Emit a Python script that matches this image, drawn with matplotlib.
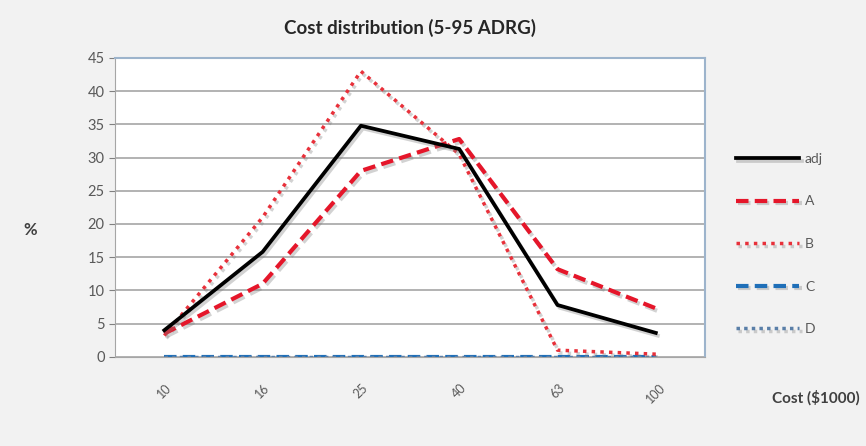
import matplotlib
matplotlib.use("Agg")
import matplotlib.pyplot as plt
import matplotlib.patheffects as pe

plt.rcParams['font.family'] = ['Lato', 'DejaVu Sans']

# data
cost_labels = ['10', '16', '25', '40', '63', '100']
adj = [4.0, 15.8, 34.8, 31.3, 7.8, 3.6]
a_vals = [3.5, 11.0, 28.0, 32.8, 13.2, 7.3]
b_vals = [3.2, 21.0, 43.0, 30.5, 1.0, 0.4]
c_vals = [0, 0, 0, 0, 0, 0]
d_vals = [0, 0, 0, 0, 0, 0]

x = list(range(len(cost_labels)))

fig = plt.figure(figsize=(8.66, 4.46), dpi=100)
fig.patch.set_facecolor('#f2f2f2')
ax = fig.add_axes([0.133, 0.2, 0.681, 0.67])
ax.set_facecolor('white')

shadow = [pe.SimpleLineShadow(offset=(1.5, -2), shadow_color='gray', alpha=0.35), pe.Normal()]

ax.plot(x, c_vals, color='#1f6fb8', lw=3, ls=(0, (3, 1.5)), label='C', path_effects=shadow, zorder=3)
ax.plot(x, d_vals, color='#5a7fa8', lw=2.5, ls=(0, (1, 1.2)), label='D', path_effects=shadow, zorder=3)
ax.plot(x, b_vals, color='#e8303a', lw=2.5, ls=(0, (1, 1.5)), label='B', path_effects=shadow, zorder=4)
ax.plot(x, a_vals, color='#e5162a', lw=3, ls=(0, (3, 1.5)), label='A', path_effects=shadow, zorder=4)
ax.plot(x, adj, color='black', lw=2.7, label='adj', path_effects=shadow, zorder=5)

ax.set_xlim(-0.5, len(x) - 0.5)
ax.set_ylim(0, 45)
ax.set_yticks(range(0, 46, 5))
ax.yaxis.grid(True, color='#a6a6a6', lw=1.2)
ax.set_axisbelow(True)
ax.set_xticks(x)
ax.set_xticklabels(cost_labels, rotation=45, fontsize=9, color='#595959')
ax.tick_params(axis='x', length=0, pad=18)
ax.tick_params(axis='y', colors='#808080', labelcolor='#595959', labelsize=10.5, length=4, direction='out')

for side in ['top', 'right']:
    ax.spines[side].set_color('#9db4cc')
    ax.spines[side].set_linewidth(1.5)
ax.spines['left'].set_color('#a6a6a6')
ax.spines['bottom'].set_color('#a6a6a6')

ax.set_title('Cost distribution (5-95 ADRG)', fontsize=13.5, fontweight='bold', color='#262626', pad=17)
fig.text(0.035, 0.485, '%', fontsize=12, fontweight='bold', color='#404040', ha='center', va='center')
fig.text(0.993, 0.108, 'Cost ($1000)', fontsize=11, fontweight='bold', color='#404040', ha='right', va='center')

handles, labels = ax.get_legend_handles_labels()
order = [4, 3, 2, 0, 1]
leg = fig.legend([handles[i] for i in order], [labels[i] for i in order],
                 loc='center left', bbox_to_anchor=(0.835, 0.453), frameon=False,
                 fontsize=10, labelspacing=2.2, handlelength=4.6, handletextpad=0.4)
for t in leg.get_texts():
    t.set_color('#595959')

fig.savefig('out.png', dpi=100, facecolor=fig.get_facecolor())
